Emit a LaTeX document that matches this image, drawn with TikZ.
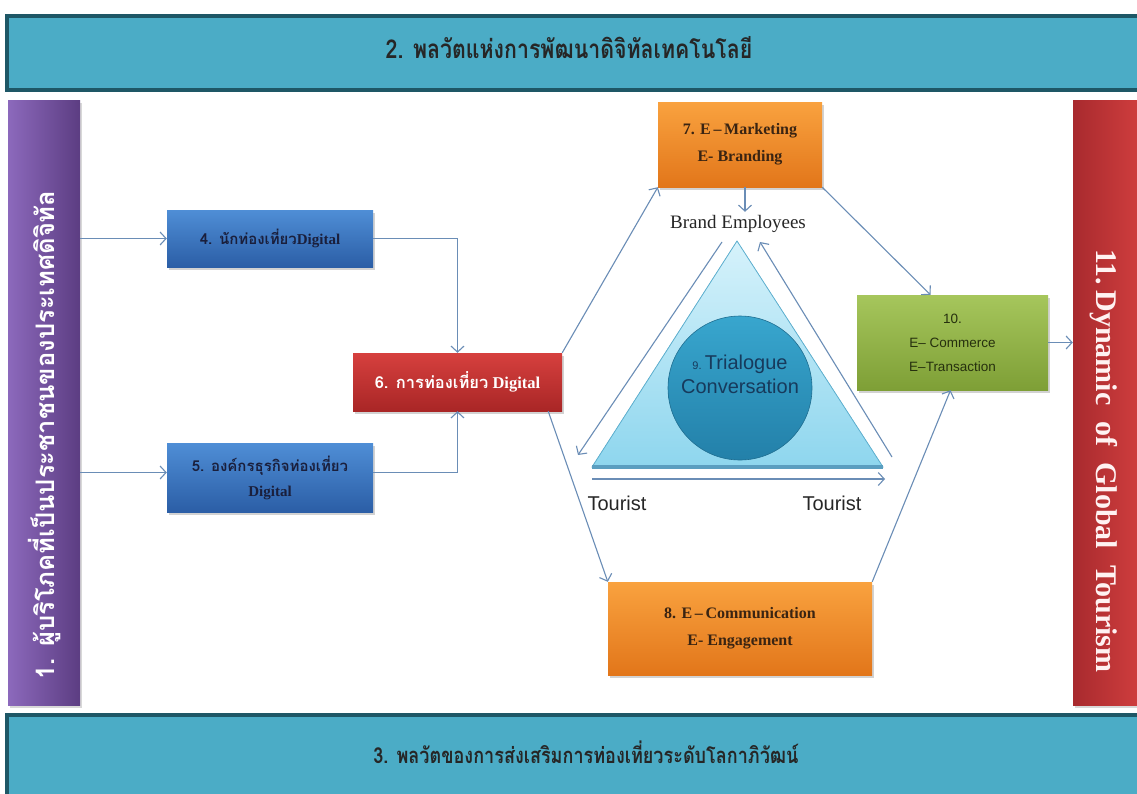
\documentclass[tikz,border=0pt]{standalone}
\usepackage{fontspec}
\setmainfont{Liberation Serif}
\newfontfamily\thai[Script=Thai]{Loma}
\newfontfamily\thaicond[Script=Thai,FakeStretch=0.82]{Loma}
\newfontfamily\lsans{Liberation Sans}
\usetikzlibrary{arrows.meta,shadows}
\definecolor{bannerfill}{HTML}{4BACC6}
\definecolor{bannerline}{HTML}{1E5766}
\definecolor{arrowc}{HTML}{6A8DB6}
\definecolor{navytext}{HTML}{1A1F3C}
\definecolor{browntext}{HTML}{3A2412}
\definecolor{olivetext}{HTML}{26300E}
\definecolor{blueT}{HTML}{4F8ED6}
\definecolor{blueB}{HTML}{2B5EA6}
\definecolor{redT}{HTML}{D6403E}
\definecolor{redB}{HTML}{A92626}
\definecolor{orangeT}{HTML}{F9A23F}
\definecolor{orangeB}{HTML}{E2761A}
\definecolor{greenT}{HTML}{A6C65C}
\definecolor{greenB}{HTML}{7E9F36}
\definecolor{purpL}{HTML}{8C69BC}
\definecolor{purpR}{HTML}{5C3D82}
\definecolor{redL}{HTML}{A82A2E}
\definecolor{redR}{HTML}{D03E3E}
\definecolor{triTop}{HTML}{D6F2FB}
\definecolor{triBot}{HTML}{8ED6EE}
\definecolor{triEdge}{HTML}{5FB3D3}
\definecolor{triBase}{HTML}{5A9EC0}
\definecolor{circTop}{HTML}{38A6CE}
\definecolor{circBot}{HTML}{2380A9}
\definecolor{circText}{HTML}{173A5C}
\tikzset{
  x=1pt,y=1pt,
  banner/.style={draw=bannerline,line width=3.5pt,fill=bannerfill},
  box/.style={draw=none,inner sep=2pt,align=center,
    drop shadow={opacity=0.35,shadow xshift=2pt,shadow yshift=-2.5pt}},
  bluebox/.style={box,top color=blueT,bottom color=blueB,text=navytext},
  redbox/.style={box,top color=redT,bottom color=redB,text=white},
  orangebox/.style={box,top color=orangeT,bottom color=orangeB,text=browntext},
  greenbox/.style={box,top color=greenT,bottom color=greenB,text=olivetext},
  arr/.style={draw=arrowc,line width=1.1pt,-{Straight Barb[length=6pt,width=13pt]}},
}
\begin{document}
\begin{tikzpicture}
\useasboundingbox (0,0) rectangle (1137,-793);
\clip (0,0) rectangle (1137,-793);
\fill[white] (0,0) rectangle (1137,-793);
% banners
\node[banner,minimum width=1150,minimum height=74,anchor=north west] (top) at (5,-14) {};
\node[font=\thaicond\bfseries\fontsize{26}{30}\selectfont,text=black!85] (toptext) at (569,-48) {2. พลวัตแห่งการพัฒนาดิจิทัลเทคโนโลยี};
\node[banner,minimum width=1150,minimum height=90,anchor=north west] (bottom) at (5,-713) {};
\node[font=\thaicond\bfseries\fontsize{22}{26}\selectfont,text=black!85] (bottext) at (586,-752) {3. พลวัตของการส่งเสริมการท่องเที่ยวระดับโลกาภิวัฒน์};
% vertical bars
\node[draw=none,left color=purpL,right color=purpR,minimum width=72,minimum height=605,
  drop shadow={opacity=0.3,shadow xshift=2pt,shadow yshift=-2.5pt}] (bar1) at (44,-402.5) {};
\node[rotate=90,text=white,font=\thai\bfseries\fontsize{25.5}{28}\selectfont] (bar1text) at (45,-435) {1. ผู้บริโภคที่เป็นประชาชนของประเทศดิจิทัล};
\node[draw=none,left color=redL,right color=redR,minimum width=68,minimum height=605,
  drop shadow={opacity=0.3,shadow xshift=2pt,shadow yshift=-2.5pt}] (bar11) at (1107,-402.5) {};
\node[rotate=-90,text=white!95!red,font=\bfseries\fontsize{30}{32}\selectfont] (bar11text) at (1104,-461) {11.\,Dynamic\hspace{16pt}of\hspace{16pt}Global\hspace{16pt}Tourism};
% boxes
\node[bluebox,minimum width=206,minimum height=57,font=\bfseries\fontsize{15}{17}\selectfont] (b4) at (270,-238.5) {{\thai 4. นักท่องเที่ยว}Digital};
\node[bluebox,minimum width=206,minimum height=69,font=\bfseries\fontsize{15}{25}\selectfont] (b5) at (270,-477.5) {{\thai 5. องค์กรธุรกิจท่องเที่ยว}\\Digital};
\node[redbox,minimum width=209,minimum height=58,font=\bfseries\fontsize{16.5}{19}\selectfont] (b6) at (457.5,-382) {{\thai 6. การท่องเที่ยว} Digital};
\node[orangebox,minimum width=164,minimum height=85,font=\bfseries\fontsize{16}{27}\selectfont] (b7) at (740,-144.5) {7. E\,–\,Marketing\\E- Branding};
\node[orangebox,minimum width=264,minimum height=93,font=\bfseries\fontsize{16}{27}\selectfont] (b8) at (740,-628.5) {8. E\,–\,Communication\\E- Engagement};
\node[greenbox,minimum width=191,minimum height=95,font=\lsans\fontsize{13.5}{24}\selectfont] (b10) at (952.5,-342.5) {10.\\E– Commerce\\E–Transaction};
% triangle and circle
\coordinate (tA) at (737,-241);
\coordinate (tL) at (592,-467);
\coordinate (tR) at (883,-467);
\fill[top color=triTop,bottom color=triBot,draw=triEdge,line width=0.8pt] (tA) -- (tR) -- (tL) -- cycle;
\draw[triBase,line width=3.5pt] (tL) -- (tR);
\node[circle,draw=circBot!85!black,line width=0.6pt,top color=circTop,bottom color=circBot,minimum size=144] (circ) at (740,-388) {};
\node[align=center,text=circText,font=\lsans\fontsize{20}{24}\selectfont] (trial) at (740,-374) {{\fontsize{11}{12}\selectfont 9.}\,Trialogue\\Conversation};
\node[font=\fontsize{19}{22}\selectfont,text=black!85] (brand) at (738,-224) {Brand Employees};
\node[font=\lsans\fontsize{20}{24}\selectfont,text=black!85] (tour1) at (617,-503) {Tourist};
\node[font=\lsans\fontsize{20}{24}\selectfont,text=black!85] (tour2) at (832,-503) {Tourist};
% free ends of triangle arrows
\coordinate (la1) at (722,-242);
\coordinate (la2) at (578,-455);
\coordinate (ra1) at (892,-457);
\coordinate (ra2) at (760,-242);
\coordinate (ba1) at (592,-479);
\coordinate (ba2) at (885,-479);
\draw[arr] (la1) -- (la2);
\draw[arr] (ra1) -- (ra2);
\draw[arr] (ba1) -- (ba2);
% connectors
\draw[arr] (bar1.east |- b4.west) -- (b4.west);
\draw[arr] ([yshift=5]bar1.east |- b5.west) -- ([yshift=5]b5.west);
\draw[arr] (b4.east) -| (b6.north);
\draw[arr] ([yshift=5]b5.east) -| (b6.south);
\draw[arr] (b6.north east) -- (b7.south west);
\draw[arr] ([xshift=-14]b6.south east) -- (b8.north west);
\draw[arr] ([xshift=5]b7.south) -- ([xshift=7]brand.north);
\draw[arr] (b7.south east) -- ([xshift=-22]b10.north);
\draw[arr] (b8.north east) -- ([xshift=-2]b10.south);
\draw[arr] (b10.east) -- (bar11.west |- b10.east);
\end{tikzpicture}
\end{document}
